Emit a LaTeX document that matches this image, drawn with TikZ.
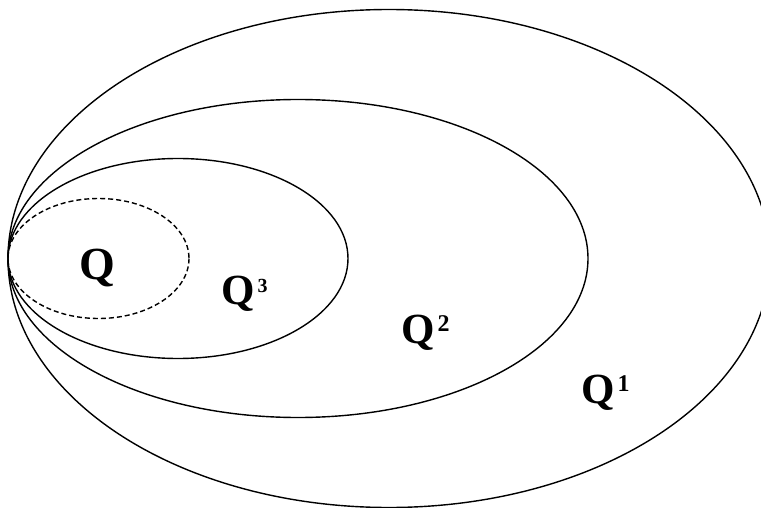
\documentclass[tikz,border=0pt]{standalone}
\usepackage{fontspec}
\setmainfont{Liberation Serif}
\begin{document}
\begin{tikzpicture}[x=1pt,y=-1pt,
  setline/.style={line width=1.4pt},
  dashline/.style={line width=1.4pt,dash pattern=on 5pt off 3pt},
  biglabel/.style={anchor=base west,inner sep=0pt,font=\bfseries\fontsize{43}{43}\selectfont},
  qlabel/.style={anchor=base west,inner sep=0pt,font=\bfseries\fontsize{46}{46}\selectfont}]
\useasboundingbox (0,0) rectangle (761,508);
\clip (0,0) rectangle (761,508);
\draw[setline] (389,258.5) ellipse [x radius=381, y radius=249];
\draw[setline] (298,258.5) ellipse [x radius=290, y radius=159];
\draw[setline] (178,258.5) ellipse [x radius=170, y radius=100];
\draw[dashline] (98.5,258.5) ellipse [x radius=90.5, y radius=60];
\newcommand{\supdig}[2]{\hspace{3pt}{\fontsize{#1}{#1}\selectfont\raisebox{12pt}{#2}}}
\node[qlabel] (q) at (79,279) {Q};
\node[biglabel] (q3) at (221,304) {Q\supdig{20}{3}};
\node[biglabel] (q2) at (401,343) {Q\supdig{24}{2}};
\node[biglabel] (q1) at (581,403) {Q\supdig{24}{1}};
\end{tikzpicture}
\end{document}
